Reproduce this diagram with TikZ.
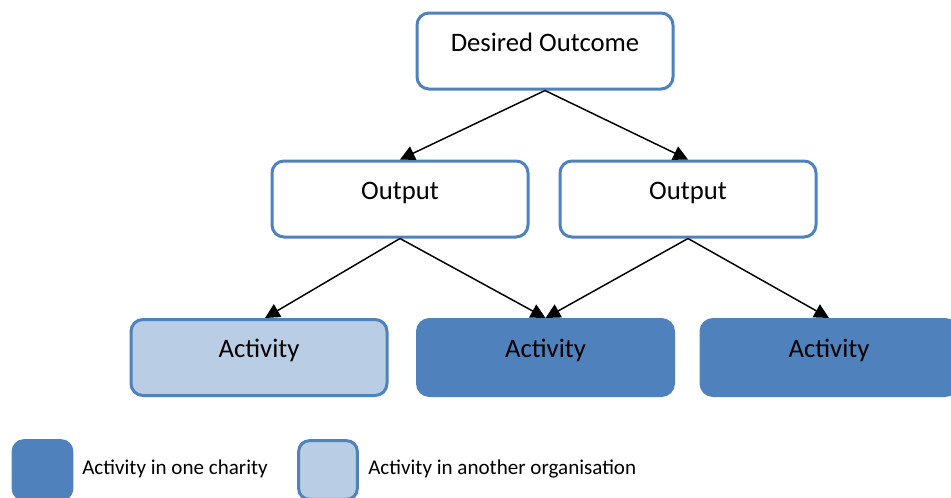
\documentclass[tikz,border=0pt]{standalone}
\usepackage{fontspec}
\setmainfont{Carlito}
\usetikzlibrary{arrows.meta}
\definecolor{boxblue}{HTML}{4F81BD}
\definecolor{paleblue}{HTML}{B9CDE5}
\begin{document}
\begin{tikzpicture}[x=0.75pt,y=-0.75pt,line join=round,>={Triangle[length=11pt,width=11pt]},
	box/.style={rounded corners=9pt,minimum width=192pt,minimum height=57pt,text height=0.8em,text depth=0.8em,font=\fontsize{20}{24}\selectfont,draw=boxblue,line width=2.25pt},
	plain/.style={box,fill=white},
	pale/.style={box,fill=paleblue},
	full/.style={box,fill=boxblue},
	keybox/.style={rounded corners=8pt,minimum size=44pt,inner sep=0pt,draw=boxblue,line width=2.25pt},
	key/.style={font=\fontsize{15.8}{19}\selectfont,anchor=base west,inner sep=0pt}]
	\useasboundingbox (0,0) rectangle (951,497);
	\clip (0,0) rectangle (951,497);
	\node[plain] (goal) at (545,51) {Desired Outcome};
	\node[plain] (out1) at (400,199) {Output};
	\node[plain] (out2) at (688,199) {Output};
	\node[pale] (act1) at (259,357.5) {Activity};
	\node[full] (act2) at (545.5,357.5) {Activity};
	\node[full] (act3) at (829,357.5) {Activity};
	\draw[->,line width=1.1pt] (goal.south) -- (out1.north);
	\draw[->,line width=1.1pt] (goal.south) -- (out2.north);
	\draw[->,line width=1.1pt] (out1.south) -- ([xshift=4.5pt]act1.north);
	\draw[->,line width=1.1pt] (out1.south) -- (act2.north);
	\draw[->,line width=1.1pt] (out2.south) -- (act2.north);
	\draw[->,line width=1.1pt] (out2.south) -- (act3.north);
	% legend
	\node[keybox,fill=boxblue] (k1) at (42.5,470) {};
	\node[keybox,fill=paleblue] (k2) at (328,470) {};
	\node[key] (t1) at (82,474) {Activity in one charity};
	\node[key] (t2) at (368,474) {Activity in another organisation};
\end{tikzpicture}
\end{document}
